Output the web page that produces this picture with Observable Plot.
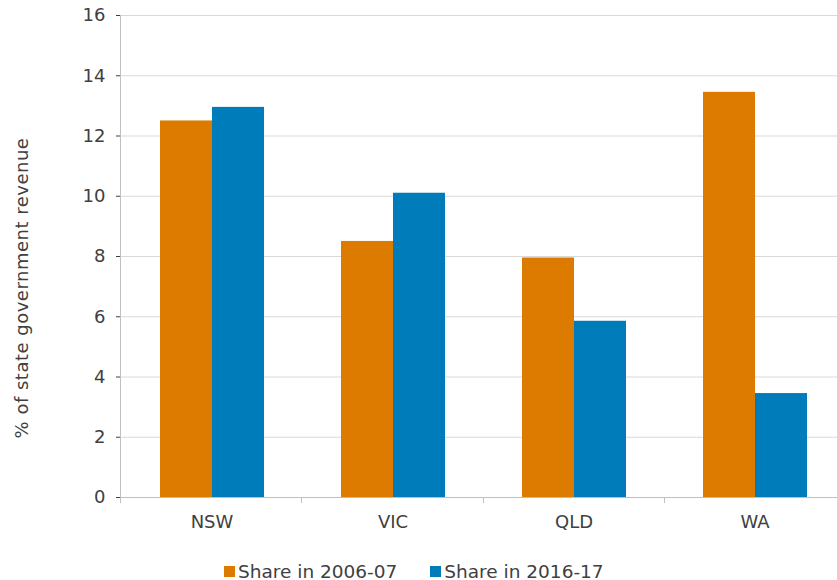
<!DOCTYPE html>
<html><head><meta charset="utf-8">
<script src="https://cdn.jsdelivr.net/npm/d3@7"></script>
<script src="https://cdn.jsdelivr.net/npm/@observablehq/plot@0.6"></script>
<style>
body{margin:0;background:#fff;font-family:"DejaVu Sans",Verdana,sans-serif;overflow:hidden;}
#chart{position:relative;width:837px;height:540px;overflow:hidden;}
#chart svg{max-width:none !important;width:845px;height:540px;}
#legend{display:flex;justify-content:flex-start;align-items:center;gap:33px;font-size:18.5px;color:#404040;height:22px;margin-top:20px;padding-left:224px;}
.item{display:flex;align-items:center;gap:3px;}
.sw{width:11px;height:11px;display:inline-block;}
</style></head><body><div id="chart"></div><div id="legend"></div><script>
const states = ["NSW", "VIC", "QLD", "WA"];
const series = ["Share in 2006-07", "Share in 2016-17"];
const share2006 = [12.5, 8.5, 7.95, 13.45];
const share2016 = [12.95, 10.1, 5.85, 3.45];
const colors = ["#DD7A00", "#007CBA"];
const yTicks = [0, 2, 4, 6, 8, 10, 12, 14, 16];
const yLabel = "% of state government revenue";

const data = states.flatMap((s, i) => [
  {state: s, series: series[0], value: share2006[i]},
  {state: s, series: series[1], value: share2016[i]}
]);

const plot = Plot.plot({
  width: 845, height: 540,
  marginLeft: 120, marginRight: 0, marginTop: 15, marginBottom: 43,
  style: {fontFamily: '"DejaVu Sans", Verdana, sans-serif', fontSize: "18px", color: "#404040", background: "#fff", maxWidth: "none"},
  facet: {data, x: "state", marginBottom: 43},
  fx: {domain: states, padding: 0, label: null, tickSize: 0, tickPadding: 18},
  x: {domain: series, axis: null, paddingInner: 0, paddingOuter: 0.74},
  y: {domain: [0, 16], ticks: yTicks, tickSize: 5, tickPadding: 11, label: null},
  color: {domain: series, range: colors},
  marks: [
    Plot.ruleY(yTicks, {stroke: "#d9d9d9", strokeWidth: 1}),
    Plot.barY(data, {x: "series", y: "value", fill: "series"}),
    Plot.ruleY([0], {stroke: "#bfbfbf", strokeWidth: 1})
  ]
});
document.getElementById("chart").appendChild(plot);

// axis lines, between-group ticks and the y label, positioned from Plot's own scales
const svgEl = plot.tagName.toLowerCase() === "svg" ? plot : plot.querySelector("svg");
svgEl.style.maxWidth = "none";
svgEl.style.width = "845px";
svgEl.style.height = "540px";
const svg = d3.select(svgEl);
const fxs = plot.scale("fx");
const ys = plot.scale("y");
const fxBand = d3.scaleBand(fxs.domain, fxs.range).padding(0);
const yLin = d3.scaleLinear(ys.domain, ys.range);
svg.selectAll("g[aria-label='y-axis'] .tick line, g[aria-label='y-axis tick'] line").attr("stroke", "#bfbfbf");
const g = svg.append("g").attr("stroke", "#bfbfbf").attr("stroke-width", 1);
const x0 = fxBand.range()[0];
g.append("line").attr("x1", x0 + 0.5).attr("x2", x0 + 0.5).attr("y1", yLin(16)).attr("y2", yLin(0) + 6);
states.slice(1).forEach(s => {
  const xx = Math.round(fxBand(s)) + 0.5;
  g.append("line").attr("x1", xx).attr("x2", xx).attr("y1", yLin(0)).attr("y2", yLin(0) + 6);
});
svg.selectAll("text").attr("fill", "#404040");
svg.append("text")
  .attr("transform", "translate(21,288) rotate(-90)")
  .attr("text-anchor", "middle")
  .attr("dominant-baseline", "central")
  .attr("fill", "#404040")
  .style("font-size", "18px")
  .style("letter-spacing", "0.5px")
  .text(yLabel);

const lg = d3.select("#legend");
series.forEach((s, i) => {
  const it = lg.append("div").attr("class", "item");
  it.append("span").attr("class", "sw").style("background", colors[i]);
  it.append("span").text(s);
});
</script></body></html>
